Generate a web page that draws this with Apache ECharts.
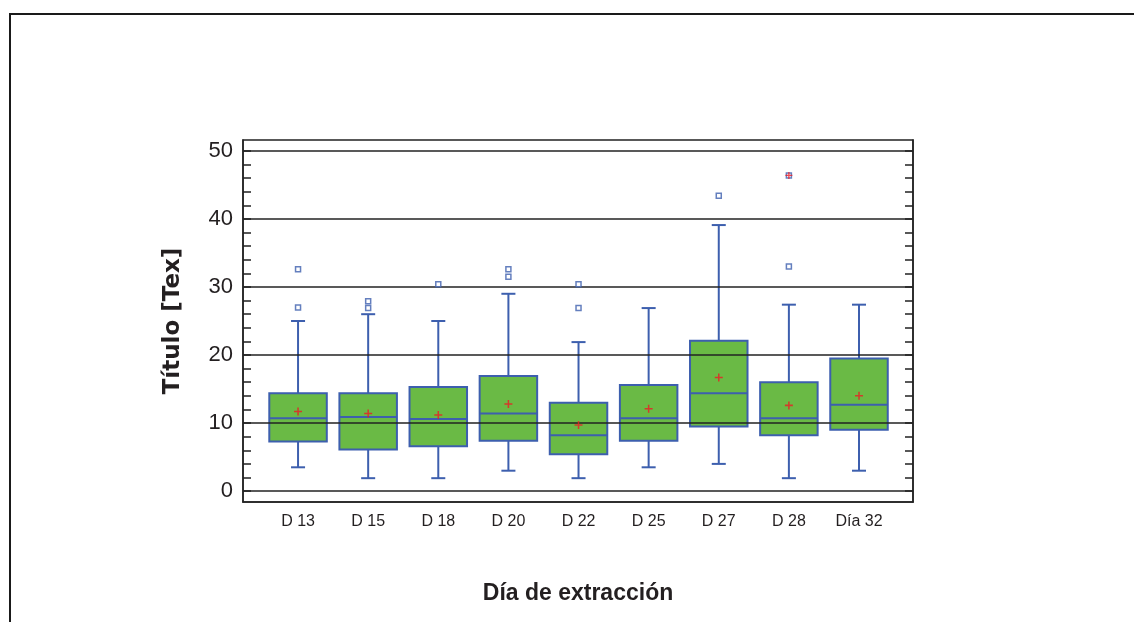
<!DOCTYPE html>
<html>
<head>
<meta charset="utf-8">
<script src="https://cdn.jsdelivr.net/npm/echarts@6/dist/echarts.min.js"></script>
<style>
  html, body { margin: 0; padding: 0; background: #fff; }
  #chart { width: 1134px; height: 622px; }
</style>
</head>
<body>
<div id="chart"></div>
<script>
// Extraction days shown on the horizontal axis
const categories = ['D 13', 'D 15', 'D 18', 'D 20', 'D 22', 'D 25', 'D 27', 'D 28', 'Día 32'];

// Five-number summaries per day: lower whisker, Q1, median, Q3, upper whisker
const whiskerLow  = [3.5, 1.9, 1.9, 3.0, 1.9, 3.5, 4.0, 1.9, 3.0];
const quartile1   = [7.3, 6.1, 6.6, 7.4, 5.4, 7.4, 9.5, 8.2, 9.0];
const medians     = [10.7, 10.9, 10.6, 11.4, 8.2, 10.7, 14.4, 10.7, 12.7];
const quartile3   = [14.4, 14.4, 15.3, 16.9, 13.0, 15.6, 22.1, 16.0, 19.5];
const whiskerHigh = [25.0, 26.0, 25.0, 29.0, 21.9, 26.9, 39.1, 27.4, 27.4];

// Means per day
const means = [11.7, 11.4, 11.2, 12.8, 9.7, 12.1, 16.7, 12.6, 14.0];

// Outside points: [day index, value]
const outliers = [
  [0, 32.6], [0, 27.0],
  [1, 27.9], [1, 26.9],
  [2, 30.4],
  [3, 32.6], [3, 31.5],
  [4, 30.4], [4, 26.9],
  [6, 43.4],
  [7, 33.0]
];
// Far outside points (square with cross)
const farOutliers = [[7, 46.4]];

// Axis ticks
const majorTicks = [0, 10, 20, 30, 40, 50];
const minorTicks = [0, 2, 4, 6, 8, 10, 12, 14, 16, 18, 20, 22, 24, 26, 28, 30, 32, 34, 36, 38, 40, 42, 44, 46, 48, 50];

const BOX_COLOR = '#6aba45';
const LINE_COLOR = '#3d5fae';
const NUM_FONT = '"Liberation Sans Narrow", "Liberation Sans", Arial, sans-serif';

const boxData = categories.map((c, i) => [i, whiskerLow[i], quartile1[i], medians[i], quartile3[i], whiskerHigh[i]]);

const plusPath = 'path://M3,0h1.4v3h3v1.4h-3v3h-1.4v-3h-3v-1.4h3z';

function renderBox(params, api) {
  const x = api.value(0);
  const lo = api.coord([x, api.value(1)]);
  const q1 = api.coord([x, api.value(2)]);
  const md = api.coord([x, api.value(3)]);
  const q3 = api.coord([x, api.value(4)]);
  const hi = api.coord([x, api.value(5)]);
  const boxW = api.size([0.82, 0])[0];
  const capW = api.size([0.2, 0])[0];
  const cx = lo[0];
  const lineStyle = { stroke: LINE_COLOR, lineWidth: 2, fill: null };
  return {
    type: 'group',
    children: [
      { type: 'line', shape: { x1: cx, y1: q3[1], x2: cx, y2: hi[1] }, style: lineStyle },
      { type: 'line', shape: { x1: cx - capW / 2, y1: hi[1], x2: cx + capW / 2, y2: hi[1] }, style: lineStyle },
      { type: 'line', shape: { x1: cx, y1: q1[1], x2: cx, y2: lo[1] }, style: lineStyle },
      { type: 'line', shape: { x1: cx - capW / 2, y1: lo[1], x2: cx + capW / 2, y2: lo[1] }, style: lineStyle },
      { type: 'rect', shape: { x: cx - boxW / 2, y: q3[1], width: boxW, height: q1[1] - q3[1] },
        style: { fill: BOX_COLOR, stroke: LINE_COLOR, lineWidth: 2 } },
      { type: 'line', shape: { x1: cx - boxW / 2, y1: md[1], x2: cx + boxW / 2, y2: md[1] }, style: lineStyle }
    ]
  };
}

const chart = echarts.init(document.getElementById('chart'), null, { renderer: 'canvas' });

chart.setOption({
  backgroundColor: '#ffffff',
  animation: false,
  graphic: [
    { type: 'rect', shape: { x: 10, y: 14, width: 1200, height: 700 },
      style: { fill: null, stroke: '#1a1a1a', lineWidth: 2 }, silent: true }
  ],
  grid: {
    left: 243, top: 140, width: 670, height: 362,
    show: true, borderColor: '#222', borderWidth: 1.5, backgroundColor: 'transparent'
  },
  xAxis: {
    type: 'value',
    min: -0.785, max: 8.77,
    name: 'Día de extracción',
    nameLocation: 'middle',
    nameGap: 80,
    nameTextStyle: { fontFamily: NUM_FONT, fontWeight: 'bold', fontSize: 23, color: '#231f20' },
    axisLine: { show: true, onZero: false, lineStyle: { color: '#222', width: 1.5 } },
    axisTick: { show: false },
    splitLine: { show: false },
    axisLabel: {
      customValues: categories.map((c, i) => i),
      formatter: v => categories[Math.round(v)],
      fontFamily: NUM_FONT, fontSize: 16, color: '#231f20', margin: 12
    }
  },
  yAxis: [
    {
      type: 'value',
      min: -1.6, max: 51.6,
      name: 'Título [Tex]',
      nameLocation: 'middle',
      nameRotate: 90,
      nameGap: 58,
      nameTextStyle: { fontFamily: '"DejaVu Sans", sans-serif', fontWeight: 'bold', fontSize: 23, color: '#231f20' },
      axisLine: { show: true, onZero: false, lineStyle: { color: '#222', width: 1.5 } },
      axisTick: { show: true, inside: true, length: 8, customValues: minorTicks, lineStyle: { color: '#222', width: 1.5 } },
      splitLine: { show: false },
      axisLabel: {
        customValues: majorTicks,
        fontFamily: NUM_FONT, fontSize: 22, color: '#231f20', margin: 10
      }
    },
    {
      type: 'value',
      position: 'right',
      min: -1.6, max: 51.6,
      axisLine: { show: true, onZero: false, lineStyle: { color: '#222', width: 1.5 } },
      axisTick: { show: true, inside: true, length: 8, customValues: minorTicks, lineStyle: { color: '#222', width: 1.5 } },
      splitLine: { show: false },
      axisLabel: { show: false }
    }
  ],
  series: [
    {
      type: 'custom',
      name: 'grid',
      data: [],
      silent: true,
      renderItem: () => null,
      markLine: {
        silent: true,
        symbol: 'none',
        label: { show: false },
        lineStyle: { color: '#222', width: 1.5, type: 'solid' },
        data: majorTicks.map(v => ({ yAxis: v }))
      }
    },
    {
      type: 'custom',
      name: 'boxes',
      data: boxData,
      renderItem: renderBox,
      encode: { x: 0, y: [1, 2, 3, 4, 5] },
      z: 3
    },
    {
      type: 'scatter',
      name: 'mean',
      data: means.map((m, i) => [i, m]),
      symbol: plusPath,
      symbolSize: 8,
      itemStyle: { color: '#ee1c24' },
      z: 5
    },
    {
      type: 'scatter',
      name: 'outliers',
      data: outliers.concat(farOutliers),
      symbol: 'rect',
      symbolSize: 5,
      itemStyle: { color: '#ffffff', borderColor: LINE_COLOR, borderWidth: 1.5 },
      z: 5
    },
    {
      type: 'scatter',
      name: 'far',
      data: farOutliers,
      symbol: plusPath,
      symbolSize: 7,
      itemStyle: { color: '#ee1c24', opacity: 0.8 },
      z: 6
    }
  ]
});
</script>
</body>
</html>
